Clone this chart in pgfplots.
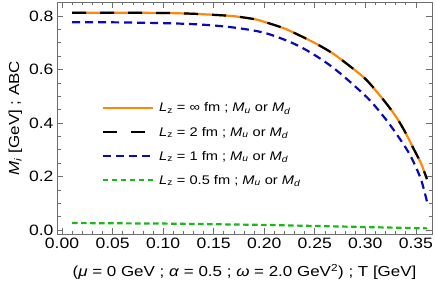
\documentclass[border=0pt]{standalone}
\usepackage{fontspec}
\setmainfont{Liberation Sans}[FakeStretch=1.17]
\usepackage{pgfplots}
\pgfplotsset{compat=1.18}
\definecolor{morange}{RGB}{255,135,10}
\definecolor{mblue}{RGB}{10,10,185}
\definecolor{mgreen}{RGB}{25,185,25}
\definecolor{frame}{RGB}{110,110,110}
\begin{document}
\begin{tikzpicture}
\begin{axis}[
  scale only axis, width=375pt, height=232pt,
  xmin=-0.005, xmax=0.366, ymin=-0.015, ymax=0.852,
  axis line style={frame, line width=0.6pt},
  tick style={frame, line width=0.6pt},
  tick align=inside,
  major tick length=6pt, minor tick length=3.5pt,
  xtick={0,0.05,...,0.35}, minor x tick num=4,
  ytick={0,0.2,0.4,0.6,0.8}, minor y tick num=3,
  xticklabel style={/pgf/number format/.cd, fixed, fixed zerofill, precision=2},
  yticklabel style={/pgf/number format/.cd, fixed, fixed zerofill, precision=1},
  /pgf/number format/assume math mode=true,
  ticklabel style={font=\fontsize{15}{17}\selectfont},
  xlabel={(\textit{μ} = 0 GeV ; \textit{α} = 0.5 ; \textit{ω} = 2.0 GeV\textsuperscript{2}) ; T [GeV]},
  ylabel={\textit{M\textsubscript{i}} [GeV] ; ABC},
  label style={font=\fontsize{14.5}{17}\selectfont},
  xlabel style={yshift=-9pt},
  legend style={at={(0.11,0.583)}, anchor=north west, draw=none, fill=none,
    font=\fontsize{12.5}{14.5}\selectfont, row sep=9.5pt,
    nodes={inner xsep=5.5pt}},
  legend cell align=left,
  legend image code/.code={\draw[#1] (0pt,0pt) -- (50pt,0pt);},
]
\addplot[morange, line width=2.2pt, smooth] coordinates {
(0.01,0.812)(0.05,0.812)(0.10,0.811)(0.13,0.808)(0.15,0.804)(0.17,0.799)(0.19,0.788)(0.20,0.778)(0.22,0.753)(0.235,0.727)(0.25,0.699)(0.267,0.662)(0.28,0.626)(0.30,0.565)(0.315,0.500)(0.325,0.452)(0.333,0.408)(0.340,0.362)(0.348,0.302)(0.355,0.250)(0.361,0.190)};
\addlegendentry{\textit{L}\textsubscript{z} = ∞ fm ; \textit{M\textsubscript{u}} or \textit{M\textsubscript{d}}}
\addplot[black, line width=2.2pt, smooth, dash pattern=on 14pt off 14pt] coordinates {
(0.01,0.812)(0.05,0.812)(0.10,0.811)(0.13,0.808)(0.15,0.804)(0.17,0.799)(0.19,0.788)(0.20,0.778)(0.22,0.753)(0.235,0.727)(0.25,0.699)(0.267,0.662)(0.28,0.626)(0.30,0.565)(0.315,0.500)(0.325,0.452)(0.333,0.408)(0.340,0.362)(0.348,0.302)(0.355,0.250)(0.361,0.190)};
\addlegendentry{\textit{L}\textsubscript{z} = 2 fm ; \textit{M\textsubscript{u}} or \textit{M\textsubscript{d}}}
\addplot[mblue, line width=2.2pt, smooth, dash pattern=on 8pt off 5pt] coordinates {
(0.01,0.776)(0.05,0.776)(0.10,0.773)(0.136,0.768)(0.169,0.757)(0.202,0.735)(0.235,0.686)(0.267,0.610)(0.301,0.498)(0.320,0.415)(0.335,0.336)(0.345,0.275)(0.355,0.190)(0.361,0.106)};
\addlegendentry{\textit{L}\textsubscript{z} = 1 fm ; \textit{M\textsubscript{u}} or \textit{M\textsubscript{d}}}
\addplot[mgreen, line width=2.2pt, dash pattern=on 5.5pt off 3.5pt] coordinates {
(0.01,0.026)(0.10,0.024)(0.20,0.019)(0.30,0.011)(0.361,0.006)};
\addlegendentry{\textit{L}\textsubscript{z} = 0.5 fm ; \textit{M\textsubscript{u}} or \textit{M\textsubscript{d}}}
\end{axis}
\pgfresetboundingbox
\path[use as bounding box] (current axis.south west) ++(-57pt,-56pt) rectangle ++(436pt,290pt);
\end{tikzpicture}
\end{document}
